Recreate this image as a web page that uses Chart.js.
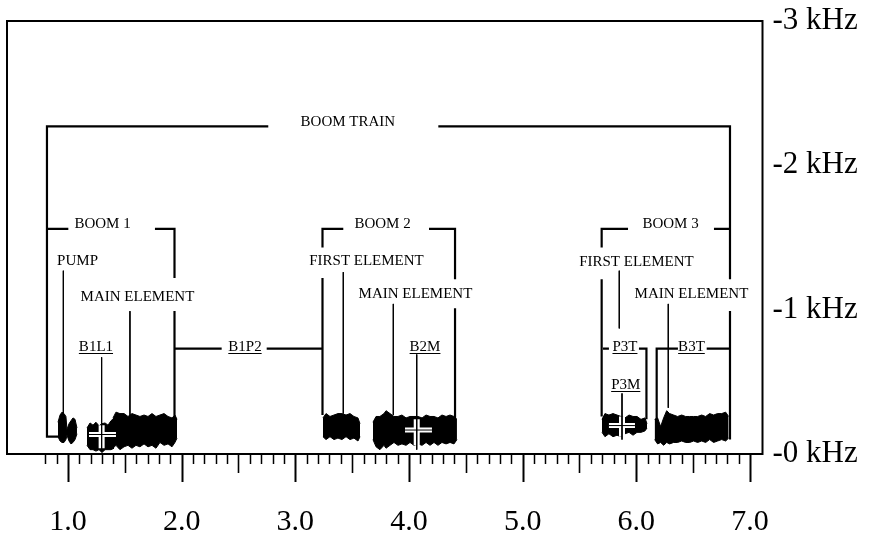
<!DOCTYPE html>
<html>
<head>
<meta charset="utf-8">
<script src="https://cdn.jsdelivr.net/npm/chart.js@4.4.0/dist/chart.umd.min.js"></script>
<style>
  html, body { margin: 0; padding: 0; background: #ffffff; }
  canvas { display: block; }
</style>
</head>
<body>
<canvas id="c" width="871" height="535"></canvas>
<script>
// ---- axes: time along x, frequency offset (kHz) along y ----
const xRange = [0.4634, 7.110];
const yRange = [0, 3];
const xTickValues = [1, 2, 3, 4, 5, 6, 7];
const yTickValues = [0, 1, 2, 3];

// ---- acoustic energy blobs: x, upper edge, lower edge ----
const pumpX      = [0.912, 0.930, 0.947, 0.965, 0.982, 0.991, 1.009, 1.026, 1.044, 1.062, 1.079];
const pumpTop    = [0.22, 0.27, 0.29, 0.28, 0.26, 0.17, 0.21, 0.23, 0.25, 0.24, 0.18];
const pumpBottom = [0.12, 0.09, 0.08, 0.08, 0.10, 0.13, 0.09, 0.07, 0.08, 0.10, 0.14];

const b1l1X      = [1.167, 1.194, 1.220, 1.246, 1.273, 1.299, 1.326, 1.352, 1.378, 1.405];
const b1l1Top    = [0.18, 0.215, 0.20, 0.22, 0.195, 0.21, 0.215, 0.20, 0.23, 0.25];
const b1l1Bottom = [0.06, 0.03, 0.03, 0.02, 0.03, 0.01, 0.03, 0.03, 0.03, 0.04];

const main1X      = [1.396, 1.422, 1.457, 1.493, 1.528, 1.563, 1.598, 1.633, 1.669, 1.704, 1.739, 1.774, 1.809, 1.845, 1.880, 1.915, 1.941, 1.959];
const main1Top    = [0.25, 0.29, 0.28, 0.28, 0.26, 0.28, 0.27, 0.26, 0.27, 0.26, 0.28, 0.26, 0.27, 0.28, 0.26, 0.25, 0.27, 0.24];
const main1Bottom = [0.04, 0.06, 0.03, 0.05, 0.06, 0.04, 0.06, 0.05, 0.07, 0.05, 0.06, 0.04, 0.08, 0.06, 0.07, 0.05, 0.08, 0.11];

const first2X      = [3.243, 3.270, 3.305, 3.340, 3.375, 3.410, 3.446, 3.481, 3.516, 3.551, 3.569];
const first2Top    = [0.25, 0.28, 0.26, 0.27, 0.28, 0.28, 0.27, 0.28, 0.26, 0.25, 0.21];
const first2Bottom = [0.12, 0.10, 0.12, 0.10, 0.11, 0.10, 0.12, 0.10, 0.11, 0.09, 0.12];

const main2X      = [3.683, 3.710, 3.744, 3.780, 3.798, 3.833, 3.868, 3.903, 3.938, 3.974, 4.009, 4.044, 4.079, 4.115, 4.150, 4.185, 4.220, 4.255, 4.290, 4.326, 4.361, 4.396, 4.422];
const main2Top    = [0.22, 0.26, 0.26, 0.28, 0.30, 0.28, 0.26, 0.26, 0.27, 0.25, 0.26, 0.26, 0.26, 0.25, 0.27, 0.26, 0.26, 0.25, 0.27, 0.26, 0.27, 0.26, 0.24];
const main2Bottom = [0.10, 0.05, 0.03, 0.06, 0.04, 0.06, 0.08, 0.06, 0.07, 0.06, 0.08, 0.06, 0.07, 0.06, 0.08, 0.06, 0.08, 0.06, 0.08, 0.07, 0.08, 0.07, 0.10];

const p3X      = [5.698, 5.724, 5.759, 5.795, 5.830, 5.865, 5.900, 5.936, 5.971, 6.006, 6.041, 6.076, 6.094];
const p3Top    = [0.24, 0.28, 0.27, 0.28, 0.27, 0.26, 0.25, 0.27, 0.26, 0.26, 0.24, 0.25, 0.21];
const p3Bottom = [0.15, 0.12, 0.14, 0.12, 0.13, 0.12, 0.14, 0.15, 0.13, 0.15, 0.15, 0.16, 0.18];

const b3tX      = [6.161, 6.187, 6.214, 6.240, 6.267, 6.293, 6.328, 6.363, 6.399, 6.434, 6.469, 6.504, 6.539, 6.575, 6.610, 6.645, 6.680, 6.715, 6.751, 6.786, 6.812];
const b3tTop    = [0.24, 0.25, 0.19, 0.25, 0.30, 0.28, 0.27, 0.26, 0.27, 0.26, 0.26, 0.26, 0.26, 0.27, 0.26, 0.28, 0.27, 0.28, 0.28, 0.29, 0.26];
const b3tBottom = [0.10, 0.07, 0.08, 0.06, 0.08, 0.07, 0.08, 0.08, 0.09, 0.08, 0.08, 0.09, 0.08, 0.09, 0.08, 0.10, 0.08, 0.09, 0.10, 0.09, 0.11];

// ---- grouping brackets (polylines of [x, y]) ----
const bracketLines = [
  [[0.930, 0.12], [0.815, 0.12], [0.815, 2.27], [2.762, 2.27]],
  [[4.258, 2.27], [6.824, 2.27], [6.824, 1.21]],
  [[6.824, 0.99], [6.824, 0.10]],
  [[0.815, 1.56], [1.003, 1.56]],
  [[1.765, 1.56], [1.937, 1.56], [1.937, 1.22]],
  [[1.937, 0.99], [1.937, 0.15]],
  [[1.937, 0.73], [2.352, 0.73]],
  [[2.748, 0.73], [3.239, 0.73]],
  [[3.422, 1.56], [3.239, 1.56], [3.239, 1.43]],
  [[3.239, 1.22], [3.239, 0.27]],
  [[4.176, 1.56], [4.405, 1.56], [4.405, 1.21]],
  [[4.405, 1.01], [4.405, 0.10]],
  [[5.695, 1.43], [5.695, 1.56], [5.927, 1.56]],
  [[6.683, 1.56], [6.824, 1.56]],
  [[5.695, 1.21], [5.695, 0.26]],
  [[5.707, 0.73], [5.759, 0.73]],
  [[6.023, 0.73], [6.089, 0.73], [6.089, 0.24]],
  [[6.179, 0.10], [6.179, 0.73], [6.366, 0.73]],
  [[6.619, 0.73], [6.824, 0.73]]
];

// ---- thin leader lines from labels down to the blobs ----
const leaderLines = [
  [[0.959, 1.27], [0.959, 0.28]],
  [[1.545, 0.99], [1.545, 0.26]],
  [[1.296, 0.67], [1.296, 0.02]],
  [[3.422, 1.26], [3.422, 0.28]],
  [[3.862, 1.04], [3.862, 0.27]],
  [[4.068, 0.69], [4.068, 0.03]],
  [[5.850, 1.27], [5.850, 0.87]],
  [[5.874, 0.42], [5.874, 0.10]],
  [[6.281, 1.04], [6.281, 0.32]]
];

// ---- cross-hair markers on the blobs ----
const crossBars = [
  [[1.185, 0.135], [1.422, 0.135]],
  [[3.965, 0.166], [4.202, 0.166]],
  [[5.759, 0.197], [5.988, 0.197]]
];
const crossStems = [
  [[1.296, 0.20], [1.296, 0.04]],
  [[4.068, 0.24], [4.068, 0.06]],
  [[5.874, 0.26], [5.874, 0.12]]
];

// ---- annotation labels ----
const labelText = ['BOOM TRAIN', 'BOOM 1', 'PUMP', 'MAIN ELEMENT', 'B1L1', 'B1P2',
  'BOOM 2', 'FIRST ELEMENT', 'MAIN ELEMENT', 'B2M',
  'BOOM 3', 'FIRST ELEMENT', 'MAIN ELEMENT', 'P3T', 'P3M', 'B3T'];
const labelX = [3.462, 1.304, 1.084, 1.611, 1.246, 2.557,
  3.767, 3.626, 4.057, 4.141,
  6.301, 6.001, 6.485, 5.900, 5.907, 6.485];
const labelY = [2.30, 1.59, 1.34, 1.09, 0.74, 0.74,
  1.59, 1.34, 1.11, 0.74,
  1.59, 1.33, 1.11, 0.74, 0.48, 0.74];
const labelUnderline = [false, false, false, false, true, true,
  false, false, false, true,
  false, false, false, true, true, true];

// ---- helpers to build Chart.js datasets ----
function toPoints(xs, ys) {
  return xs.map((x, i) => ({ x: x, y: ys[i] }));
}
function joinPolylines(lines) {
  const pts = [];
  lines.forEach((line, k) => {
    if (k > 0) pts.push({ x: line[0][0], y: null });
    line.forEach(p => pts.push({ x: p[0], y: p[1] }));
  });
  return pts;
}
function blobPair(xs, top, bottom) {
  return [
    { data: toPoints(xs, top), borderColor: '#000', borderWidth: 1, backgroundColor: '#000',
      fill: '+1', pointRadius: 0, tension: 0, order: 3, borderJoinStyle: 'miter' },
    { data: toPoints(xs, bottom), borderColor: '#000', borderWidth: 1, backgroundColor: '#000',
      fill: false, pointRadius: 0, tension: 0, order: 3, borderJoinStyle: 'miter' }
  ];
}
function lineSet(points, color, width, order) {
  return { data: points, borderColor: color, borderWidth: width, fill: false,
    pointRadius: 0, tension: 0, spanGaps: false, order: order,
    borderCapStyle: 'butt', borderJoinStyle: 'miter' };
}

const datasets = [].concat(
  blobPair(pumpX, pumpTop, pumpBottom),
  blobPair(b1l1X, b1l1Top, b1l1Bottom),
  blobPair(main1X, main1Top, main1Bottom),
  blobPair(first2X, first2Top, first2Bottom),
  blobPair(main2X, main2Top, main2Bottom),
  blobPair(p3X, p3Top, p3Bottom),
  blobPair(b3tX, b3tTop, b3tBottom),
  [
    lineSet(joinPolylines(crossBars), '#fff', 5, 2),
    lineSet(joinPolylines(crossStems), '#fff', 6, 2),
    lineSet(joinPolylines(crossBars), '#000', 1, 1),
    lineSet(joinPolylines(bracketLines), '#000', 2.2, 1),
    lineSet(joinPolylines(leaderLines), '#000', 1, 1)
  ]
);

const serif = '"Liberation Serif", "Times New Roman", serif';

// frame, graduated ticks under the time axis, and the text annotations
const decorations = {
  id: 'decorations',
  afterDraw(chart) {
    const ctx = chart.ctx;
    const area = chart.chartArea;
    const xs = chart.scales.x;
    const ys = chart.scales.y;
    ctx.save();
    ctx.strokeStyle = '#000';
    ctx.lineWidth = 2;
    ctx.strokeRect(area.left, area.top, area.right - area.left, area.bottom - area.top);

    for (let i = 8; i <= 70; i++) {
      const v = i / 10;
      const px = Math.round(xs.getPixelForValue(v)) + 0.5;
      let len = 10, w = 1.5;
      if (i % 10 === 0) { len = 28; w = 2; }
      else if (i % 5 === 0) { len = 19; w = 1.6; }
      ctx.lineWidth = w;
      ctx.beginPath();
      ctx.moveTo(px, area.bottom);
      ctx.lineTo(px, area.bottom + len);
      ctx.stroke();
    }

    ctx.fillStyle = '#000';
    ctx.font = '15px ' + serif;
    ctx.textAlign = 'center';
    ctx.textBaseline = 'middle';
    ctx.lineWidth = 1;
    labelText.forEach((t, i) => {
      const px = xs.getPixelForValue(labelX[i]);
      const py = ys.getPixelForValue(labelY[i]);
      ctx.fillText(t, px, py);
      if (labelUnderline[i]) {
        const w = ctx.measureText(t).width;
        ctx.beginPath();
        ctx.moveTo(px - w / 2, Math.round(py + 6) + 0.5);
        ctx.lineTo(px + w / 2, Math.round(py + 6) + 0.5);
        ctx.stroke();
      }
    });
    ctx.restore();
  }
};

new Chart(document.getElementById('c'), {
  type: 'line',
  data: { datasets: datasets },
  options: {
    responsive: false,
    animation: false,
    devicePixelRatio: 1,
    layout: { padding: { left: 7, top: 21, right: 0, bottom: 0 } },
    plugins: { legend: { display: false }, tooltip: { enabled: false } },
    scales: {
      x: {
        type: 'linear',
        min: xRange[0],
        max: xRange[1],
        grid: { display: false, drawTicks: false },
        border: { display: false },
        afterFit(scale) { scale.height = 81; scale.paddingLeft = 0; scale.paddingRight = 0; },
        afterBuildTicks(scale) { scale.ticks = xTickValues.map(v => ({ value: v })); },
        ticks: {
          color: '#000',
          padding: 50,
          maxRotation: 0,
          autoSkip: false,
          font: { family: serif, size: 30 },
          callback: v => v.toFixed(1)
        }
      },
      y: {
        type: 'linear',
        position: 'right',
        min: yRange[0],
        max: yRange[1],
        grid: { display: false, drawTicks: false },
        border: { display: false },
        afterFit(scale) { scale.width = 108.5; scale.paddingTop = 0; scale.paddingBottom = 0; },
        afterBuildTicks(scale) { scale.ticks = yTickValues.map(v => ({ value: v })); },
        ticks: {
          color: '#000',
          padding: 10,
          font: { family: serif, size: 31 },
          callback: v => '-' + v + ' kHz'
        }
      }
    }
  },
  plugins: [decorations]
});
</script>
</body>
</html>
